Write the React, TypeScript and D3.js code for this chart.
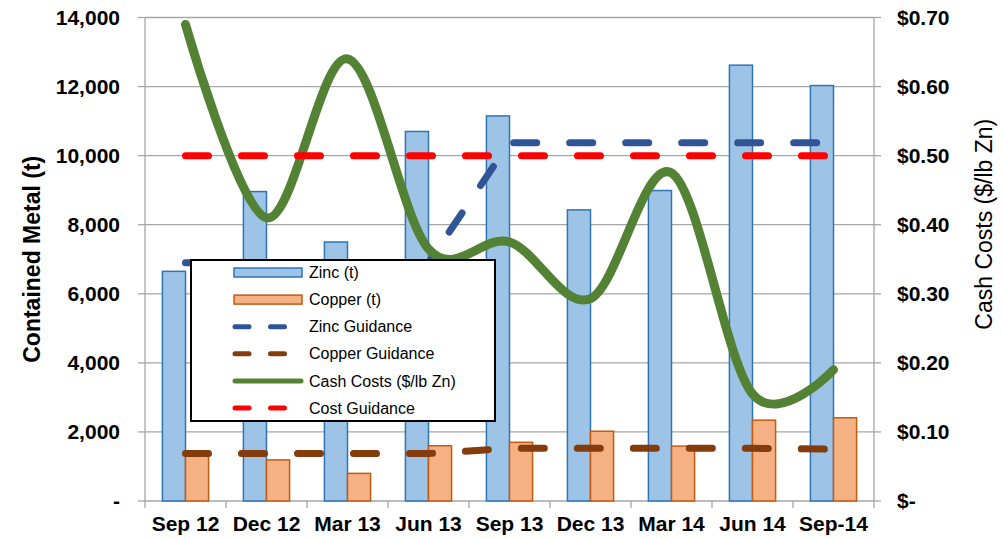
import React from 'react'
import * as d3 from 'd3'

// quarterly production and cost data
const categories = ['Sep 12', 'Dec 12', 'Mar 13', 'Jun 13', 'Sep 13', 'Dec 13', 'Mar 14', 'Jun 14', 'Sep-14']
const zinc = [6650, 8960, 7500, 10700, 11150, 8430, 8990, 12620, 12030]
const copper = [1350, 1190, 800, 1600, 1700, 2020, 1590, 2340, 2410]
const zincGuidance = [6900, 6900, 6900, 6900, 10375, 10375, 10375, 10375, 10375]
const copperGuidance = [1375, 1375, 1375, 1375, 1525, 1525, 1525, 1525, 1500]
const cashCosts = [0.69, 0.41, 0.64, 0.365, 0.375, 0.293, 0.475, 0.155, 0.19]
const costGuidance = [0.5, 0.5, 0.5, 0.5, 0.5, 0.5, 0.5, 0.5, 0.5]

const leftTicks = [0, 2000, 4000, 6000, 8000, 10000, 12000, 14000]
const rightTicks = [0, 0.1, 0.2, 0.3, 0.4, 0.5, 0.6, 0.7]

const legendItems = [
    { label: 'Zinc (t)', kind: 'bar', fill: '#9dc3e6', stroke: '#2e75b6' },
    { label: 'Copper (t)', kind: 'bar', fill: '#f4b183', stroke: '#c55a11' },
    { label: 'Zinc Guidance', kind: 'dash', stroke: '#2f5597' },
    { label: 'Copper Guidance', kind: 'dash', stroke: '#843c0c' },
    { label: 'Cash Costs ($/lb Zn)', kind: 'line', stroke: '#548235' },
    { label: 'Cost Guidance', kind: 'dash', stroke: '#ff0000' },
]

const font = "'Liberation Sans', Arial, sans-serif"

export default function App() {
    const width = 1002
    const height = 539
    const left = 145
    const right = 874
    const top = 17.5
    const bottom = 501

    const x = d3.scaleBand().domain(categories).range([left, right]).padding(0)
    const cx = (i: number) => (x(categories[i]) as number) + x.bandwidth() / 2
    const barW = x.bandwidth() * 0.285

    const yLeft = d3.scaleLinear().domain([0, 14000]).range([bottom, top])
    const yRight = d3.scaleLinear().domain([0, 0.7]).range([bottom, top])

    const leftLine = (vals: number[]) =>
        d3.line<number>().x((d, i) => cx(i)).y((d) => yLeft(d))(vals) as string
    const rightLine = (vals: number[], curve: d3.CurveFactory = d3.curveLinear) =>
        d3.line<number>().x((d, i) => cx(i)).y((d) => yRight(d)).curve(curve)(vals) as string

    const fmtLeft = (v: number) => (v === 0 ? '-' : d3.format(',')(v))
    const fmtRight = (v: number) => (v === 0 ? '$-' : '$' + d3.format('.2f')(v))

    const dash = '23 33'

    return (
        <svg width={width} height={height} style={{ position: 'absolute', left: 0, top: 0, background: '#fff' }}
            fontFamily={font}>
            {/* gridlines */}
            {leftTicks.map((t) => (
                <line key={'g' + t} x1={left} x2={right} y1={yLeft(t)} y2={yLeft(t)} stroke="#a6a6a6" strokeWidth={1.3} />
            ))}

            {/* axis lines and ticks */}
            <line x1={left} x2={left} y1={top} y2={bottom} stroke="#a6a6a6" strokeWidth={1.3} />
            <line x1={right} x2={right} y1={top} y2={bottom} stroke="#a6a6a6" strokeWidth={1.3} />
            {leftTicks.map((t) => (
                <line key={'lt' + t} x1={left - 7} x2={left} y1={yLeft(t)} y2={yLeft(t)} stroke="#a6a6a6" strokeWidth={1.3} />
            ))}
            {rightTicks.map((t) => (
                <line key={'rt' + t} x1={right} x2={right + 7} y1={yRight(t)} y2={yRight(t)} stroke="#a6a6a6" strokeWidth={1.3} />
            ))}
            {categories.map((c) => (
                <line key={'xt' + c} x1={x(c) as number} x2={x(c) as number} y1={bottom} y2={bottom + 7}
                    stroke="#a6a6a6" strokeWidth={1.3} />
            ))}
            <line x1={right} x2={right} y1={bottom} y2={bottom + 7} stroke="#a6a6a6" strokeWidth={1.3} />

            {/* bars */}
            {zinc.map((v, i) => (
                <rect key={'z' + i} x={cx(i) - barW} y={yLeft(v)} width={barW} height={bottom - yLeft(v)}
                    fill="#9dc3e6" stroke="#2e75b6" strokeWidth={1.5} />
            ))}
            {copper.map((v, i) => (
                <rect key={'c' + i} x={cx(i)} y={yLeft(v)} width={barW} height={bottom - yLeft(v)}
                    fill="#f4b183" stroke="#c55a11" strokeWidth={1.5} />
            ))}

            {/* lines */}
            <path d={leftLine(zincGuidance)} fill="none" stroke="#2f5597" strokeWidth={7}
                strokeDasharray={dash} strokeLinecap="round" strokeLinejoin="round" />
            <path d={leftLine(copperGuidance)} fill="none" stroke="#843c0c" strokeWidth={7}
                strokeDasharray={dash} strokeLinecap="round" strokeLinejoin="round" />
            <path d={rightLine(cashCosts, d3.curveCardinal.tension(0))} fill="none" stroke="#548235" strokeWidth={9}
                strokeLinecap="round" strokeLinejoin="round" />
            <path d={rightLine(costGuidance)} fill="none" stroke="#ff0000" strokeWidth={7}
                strokeDasharray={dash} strokeLinecap="round" />

            {/* tick labels */}
            {leftTicks.map((t) => (
                <text key={'ll' + t} x={120} y={yLeft(t)} dy="0.35em" textAnchor="end" fontSize={21} fontWeight="bold">
                    {fmtLeft(t)}
                </text>
            ))}
            {rightTicks.map((t) => (
                <text key={'rl' + t} x={897} y={yRight(t)} dy="0.35em" textAnchor="start" fontSize={21} fontWeight="bold">
                    {fmtRight(t)}
                </text>
            ))}
            {categories.map((c, i) => (
                <text key={'xl' + c} x={cx(i)} y={531} textAnchor="middle" fontSize={21} fontWeight="bold">
                    {c}
                </text>
            ))}

            {/* axis titles */}
            <text transform={`translate(40,${(top + bottom) / 2}) rotate(-90)`} textAnchor="middle" fontSize={23} fontWeight="bold">
                Contained Metal (t)
            </text>
            <text transform={`translate(992,${(top + bottom) / 2 - 35}) rotate(-90)`} textAnchor="middle" fontSize={23}>
                Cash Costs ($/lb Zn)
            </text>

            {/* legend */}
            <rect x={191} y={260} width={304} height={161} fill="#fff" stroke="#000" strokeWidth={2} />
            {legendItems.map((item, i) => {
                const ly = 272.5 + i * 27.1
                return (
                    <g key={item.label}>
                        {item.kind === 'bar' && (
                            <rect x={234} y={ly - 4.5} width={68} height={9} fill={item.fill} stroke={item.stroke} strokeWidth={1.5} />
                        )}
                        {item.kind === 'dash' && (
                            <g stroke={item.stroke} strokeWidth={5} strokeLinecap="round">
                                <line x1={235} x2={249} y1={ly} y2={ly} />
                                <line x1={270.5} x2={284.5} y1={ly} y2={ly} />
                            </g>
                        )}
                        {item.kind === 'line' && (
                            <line x1={235} x2={301} y1={ly} y2={ly} stroke={item.stroke} strokeWidth={5} strokeLinecap="round" />
                        )}
                        <text x={309} y={ly} dy="0.35em" fontSize={16}>{item.label}</text>
                    </g>
                )
            })}
        </svg>
    )
}
